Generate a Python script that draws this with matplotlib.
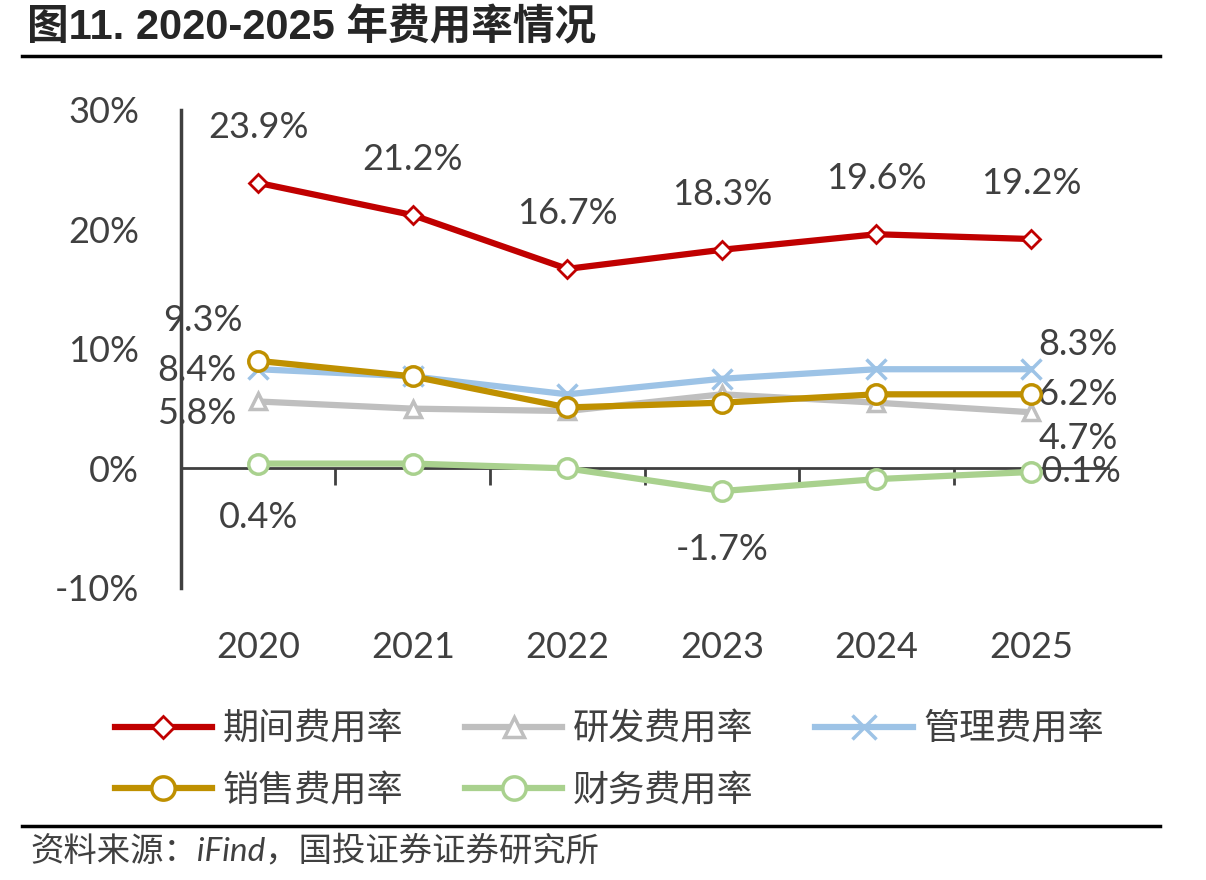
import matplotlib.pyplot as plt
import matplotlib.transforms as mtransforms

plt.rcParams['font.family'] = ['Lato', 'Noto Sans CJK SC', 'DejaVu Sans']

years = ['2020', '2021', '2022', '2023', '2024', '2025']
qijian = [23.9, 21.2, 16.7, 18.3, 19.6, 19.2]
yanfa = [5.6, 5.0, 4.8, 6.2, 5.5, 4.7]
guanli = [8.3, 7.7, 6.2, 7.5, 8.3, 8.3]
xiaoshou = [9.0, 7.7, 5.1, 5.5, 6.2, 6.2]
caiwu = [0.4, 0.4, 0.0, -1.9, -0.9, -0.3]

names = ['期间费用率', '研发费用率', '管理费用率', '销售费用率', '财务费用率']
qijian_labels = ['23.9%', '21.2%', '16.7%', '18.3%', '19.6%', '19.2%']

txt = '#404040'
red = '#C00000'
grey = '#BFBFBF'
blue = '#9DC3E6'
gold = '#BF9000'
green = '#A9D18E'
fs = 26

fig = plt.figure(figsize=(12.06, 8.8), dpi=100)
ax = fig.add_axes([0.150, 0.332, 0.769, 0.543])

x = list(range(len(years)))
lw = 4.5
ax.plot(x, qijian, color=red, lw=lw, marker='D', ms=9, mfc='white', mec=red, mew=2, zorder=6)
ax.plot(x, yanfa, color=grey, lw=lw, marker='^', ms=12, mfc='white', mec=grey, mew=2.5, zorder=3)
ax.plot(x, guanli, color=blue, lw=lw, marker='x', ms=14, mec=blue, mew=2.5, zorder=4)
ax.plot(x, xiaoshou, color=gold, lw=lw, marker='o', ms=14, mfc='white', mec=gold, mew=2.5, zorder=5)
ax.plot(x, caiwu, color=green, lw=lw, marker='o', ms=14, mfc='white', mec=green, mew=2.5, zorder=5)

ax.set_xlim(-0.5, 5.5)
ax.set_ylim(-10, 30)
ax.set_yticks([-10, 0, 10, 20, 30])
ax.set_yticklabels(['-10%', '0%', '10%', '20%', '30%'], fontsize=fs, color=txt)
ax.tick_params(axis='y', length=0, pad=30)

for s in ['top', 'right']:
    ax.spines[s].set_visible(False)
ax.spines['left'].set_color('#404040')
ax.spines['left'].set_linewidth(2.5)
ax.spines['bottom'].set_position(('data', 0))
ax.spines['bottom'].set_color('#404040')
ax.spines['bottom'].set_linewidth(2)
ax.set_xticks([i + 0.5 for i in range(len(years) - 1)])
ax.set_xticklabels([])
ax.tick_params(axis='x', direction='out', length=12, width=2, color='#404040')

trans = mtransforms.blended_transform_factory(ax.transData, ax.transAxes)
for i, y in enumerate(years):
    ax.text(i, -0.125, y, transform=trans, ha='center', va='center', fontsize=fs, color=txt)

# data labels
for i, v in enumerate(qijian):
    ax.annotate(qijian_labels[i], (i, v), xytext=(0, 40), textcoords='offset points',
                ha='center', va='center', fontsize=fs, color=txt)


def label(s, xi, yv, dx, dy):
    ax.annotate(s, (xi, yv), xytext=(dx, dy), textcoords='offset points',
                ha='center', va='center', fontsize=fs, color=txt)


label('9.3%', 0, xiaoshou[0], -40, 29)
label('8.4%', 0, guanli[0], -44, -1)
label('5.8%', 0, yanfa[0], -44, -9)
label('0.4%', 0, caiwu[0], 0, -39)
label('-1.7%', 3, caiwu[3], 0, -42)
label('8.3%', 5, guanli[5], 34, 18)
label('6.2%', 5, xiaoshou[5], 34, 0)
label('4.7%', 5, yanfa[5], 34, -19)
label('-0.1%', 5, caiwu[5], 32, 0)

# legend, filled by column: rows read 期间/研发/管理 then 销售/财务
handles = ax.get_lines()
order = [0, 3, 1, 4, 2]
leg = fig.legend([handles[i] for i in order], [names[i] for i in order],
                 loc='upper left', bbox_to_anchor=(0.068, 0.228), ncol=3,
                 frameon=False, fontsize=fs, handlelength=2.7, columnspacing=1.7,
                 labelspacing=0.75, handletextpad=0.3, markerscale=1.2)
for t in leg.get_texts():
    t.set_color(txt)

# title and rules
fig.text(0.022, 0.968, '图11. 2020-2025 年费用率情况', fontsize=30, fontweight='bold',
         color='#262626', ha='left', va='center', family=['Liberation Sans', 'Noto Sans CJK SC'])
fig.add_artist(plt.Line2D([0.018, 0.962], [0.936, 0.936], color='black', lw=2.5))
fig.add_artist(plt.Line2D([0.018, 0.962], [0.061, 0.061], color='black', lw=2.5))
fig.text(0.025, 0.034, '资料来源：iFind，国投证券证券研究所', fontsize=24, style='italic',
         color='#404040', ha='left', va='center')

fig.savefig('out.png', dpi=100)
